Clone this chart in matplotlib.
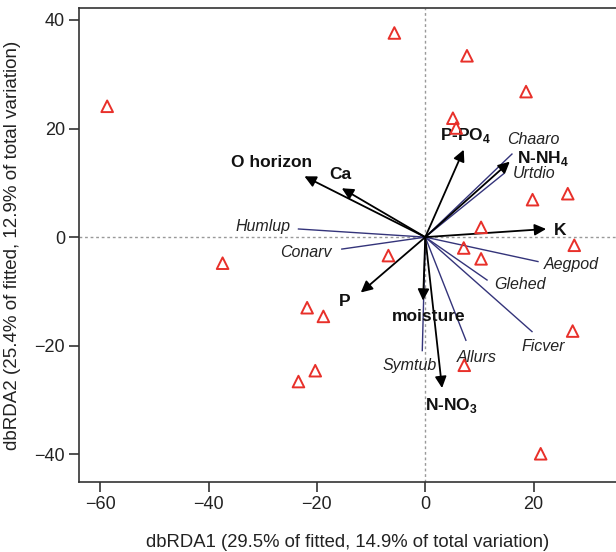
import matplotlib.pyplot as plt

plt.rcParams['font.family'] = ['Liberation Sans', 'DejaVu Sans']
plt.rcParams['mathtext.fontset'] = 'custom'
plt.rcParams['mathtext.rm'] = 'Liberation Sans'
plt.rcParams['mathtext.bf'] = 'Liberation Sans:bold'

# site scores (dbRDA1, dbRDA2)
site_x = [-58.7, -37.4, -5.7, 7.7, 18.6, 5.1, 5.7, 19.8, 26.3, 10.3, 27.5,
          7.1, 10.3, -6.8, -21.8, -18.8, -20.3, -23.4, 27.2, 7.2, 21.3]
site_y = [24.1, -4.8, 37.6, 33.4, 26.8, 21.9, 20.1, 6.9, 8.0, 1.8, -1.5,
          -2.0, -4.0, -3.4, -13.0, -14.6, -24.6, -26.6, -17.3, -23.6, -39.9]

# environmental vectors
env_names = ['O horizon', 'Ca', r'P-PO$_\mathbf{4}$', r'N-NH$_\mathbf{4}$', 'K',
             'P', 'moisture', r'N-NO$_\mathbf{3}$']
env_x = [-22.3, -15.4, 7.1, 15.6, 22.3, -11.9, -0.4, 3.1]
env_y = [11.2, 9.0, 16.1, 13.9, 1.5, -10.2, -11.7, -27.8]
env_lab_x = [-28.3, -15.7, 7.4, 21.8, 24.9, -14.8, 0.6, 4.9]
env_lab_y = [13.8, 11.6, 18.8, 14.5, 1.3, -11.9, -14.7, -31.1]

# species vectors
sp_names = ['Humlup', 'Conarv', 'Chaaro', 'Urtdio', 'Aegpod', 'Glehed',
            'Ficver', 'Allurs', 'Symtub']
sp_x = [-23.4, -15.4, 16.0, 14.5, 20.8, 11.4, 19.7, 7.5, -0.55]
sp_y = [1.5, -2.2, 15.3, 11.7, -4.5, -7.9, -17.4, -19.0, -20.9]
sp_lab_x = [-29.9, -22.0, 19.9, 20.0, 26.9, 17.4, 21.8, 9.5, -2.8]
sp_lab_y = [1.95, -2.8, 17.9, 11.7, -5.1, -8.7, -20.1, -22.2, -23.6]

fig = plt.figure(figsize=(6.16, 5.52), dpi=100)
ax = fig.add_axes([79 / 616, 70 / 552, 1 - 79 / 616, 474 / 552])

ax.axhline(0, color='#999999', linestyle=(0, (2, 2)), lw=1, zorder=1)
ax.axvline(0, color='#999999', linestyle=(0, (2, 2)), lw=1, zorder=1)

# species lines
for name, x, y, lx, ly in zip(sp_names, sp_x, sp_y, sp_lab_x, sp_lab_y):
    ax.plot([0, x], [0, y], color='#34347a', lw=1, zorder=2)
    ax.text(lx, ly, name, style='italic', fontsize=11.5, color='#222222',
            ha='center', va='center', zorder=4)

# environmental arrows
for name, x, y, lx, ly in zip(env_names, env_x, env_y, env_lab_x, env_lab_y):
    ax.annotate('', xy=(x, y), xytext=(0, 0),
                arrowprops=dict(arrowstyle='-|>', color='black', lw=1.3,
                                mutation_scale=17, shrinkA=0, shrinkB=0),
                zorder=3)
    ax.text(lx, ly, name, fontweight='bold', fontsize=12.5, color='#111111',
            ha='center', va='center', zorder=4)

# sites
ax.scatter(site_x, site_y, marker='^', s=70, facecolors='none',
           edgecolors='#e8302a', linewidths=1.4, zorder=5)

ax.set_xlim(-63.9, 35.2)
ax.set_ylim(-45.1, 42.2)
ax.set_xticks([-60, -40, -20, 0, 20])
ax.set_yticks([-40, -20, 0, 20, 40])
ax.spines['right'].set_visible(False)
for s in ['left', 'bottom', 'top']:
    ax.spines[s].set_color('#333333')
    ax.spines[s].set_linewidth(1.2)
ax.tick_params(direction='out', length=7, width=1.2, labelsize=13,
               colors='#333333', labelcolor='#222222', pad=3)

ax.set_xlabel('dbRDA1 (29.5% of fitted, 14.9% of total variation)',
              fontsize=13.3, color='#222222', labelpad=15)
ax.set_ylabel('dbRDA2 (25.4% of fitted, 12.9% of total variation)',
              fontsize=13.5, color='#222222', labelpad=10)

plt.savefig('out.png', dpi=100)
